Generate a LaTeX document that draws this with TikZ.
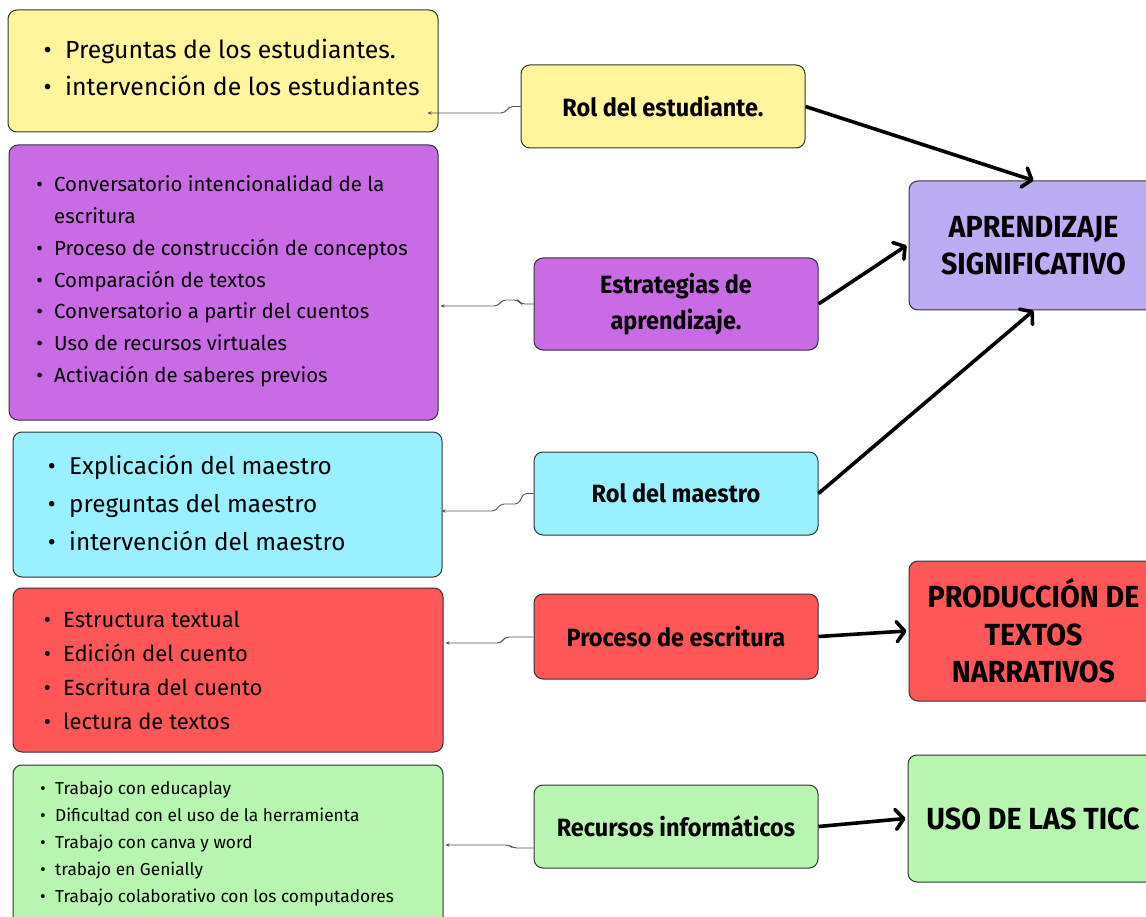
\documentclass[tikz,border=0pt]{standalone}
\usepackage{fontspec}
\setmainfont{Fira Sans}
\newfontfamily\hfont{Fira Sans}[FakeStretch=0.94]
\usetikzlibrary{arrows.meta}
\definecolor{cyel}{HTML}{FFF59D}
\definecolor{cpur}{HTML}{C96BE5}
\definecolor{ccya}{HTML}{99F0FF}
\definecolor{cred}{HTML}{FF5757}
\definecolor{cgre}{HTML}{B8F5B0}
\definecolor{clav}{HTML}{BCACF4}
\definecolor{bd}{HTML}{333333}
\definecolor{cn}{HTML}{555555}
\newcommand{\bul}{\llap{\textbullet\hspace{0.55em}}}
\begin{document}
\begin{tikzpicture}[x=1pt,y=-1pt,
  box/.style={draw=bd,line width=1pt,rounded corners=9pt,inner sep=0pt},
  lbl/.style={box,align=center,font=\hfont\bfseries\fontsize{25}{36}\selectfont},
  big/.style={box,align=center,font=\hfont\bfseries\fontsize{30.5}{37.5}\selectfont},
  item/.style={anchor=base west,inner sep=0pt},
  conn/.style={draw=cn,line width=0.9pt,rounded corners=4pt,-{Stealth[length=4pt,width=3.5pt]}},
  thick arrow/.style={line width=3.6pt,-{Straight Barb[length=8pt,width=20pt,round]}}]
\clip (0,0) rectangle (1146,917);
% left boxes
\node[box,fill=cyel,minimum width=430,minimum height=122] (y1) at (223,71) {};
\node[box,fill=cpur,minimum width=429,minimum height=275] (p1) at (223.5,282.5) {};
\node[box,fill=ccya,minimum width=429,minimum height=145] (c1) at (227.5,504.5) {};
\node[box,fill=cred,minimum width=430,minimum height=164] (r1) at (228,670) {};
\node[box,fill=cgre,minimum width=430,minimum height=170] (g1) at (228,850) {};
% middle boxes
\node[lbl,fill=cyel,minimum width=284,minimum height=83] (rolE) at (663,106.5) {Rol del estudiante.};
\node[lbl,fill=cpur,minimum width=284,minimum height=92] (est) at (676,304) {Estrategias de\\aprendizaje.};
\node[lbl,fill=ccya,minimum width=284,minimum height=83] (rolM) at (676,493.5) {Rol del maestro};
\node[lbl,fill=cred,minimum width=284,minimum height=85] (proc) at (676,636.5) {Proceso de escritura};
\node[lbl,fill=cgre,minimum width=284,minimum height=83] (rec) at (676,826.5) {Recursos informáticos};
% right boxes
\node[big,fill=clav,minimum width=249,minimum height=129] (apr) at (1033.5,245.5) {APRENDIZAJE\\SIGNIFICATIVO};
\node[big,fill=cred,minimum width=249,minimum height=140] (prod) at (1033.5,631) {PRODUCCIÓN DE\\TEXTOS\\NARRATIVOS};
\node[big,fill=cgre,minimum width=250,minimum height=127] (uso) at (1033,818.5) {USO DE LAS TICC};
% items
\begin{scope}[every node/.style={item,font=\fontsize{24.8}{24.8}\selectfont}]
\node (y1a) at (65,59) {\bul Preguntas de los estudiantes.};
\node (y1b) at (65,96) {\bul intervención de los estudiantes};
\end{scope}
\begin{scope}[every node/.style={item,font=\fontsize{20.4}{20.4}\selectfont}]
\node (p1a) at (54,192) {\bul Conversatorio intencionalidad de la};
\node (p1b) at (54,223.7) {escritura};
\node (p1c) at (54,255.4) {\bul Proceso de construcción de conceptos};
\node (p1d) at (54,287.1) {\bul Comparación de textos};
\node (p1e) at (54,318.8) {\bul Conversatorio a partir del cuentos};
\node (p1f) at (54,350.5) {\bul Uso de recursos virtuales};
\node (p1g) at (54,382.2) {\bul Activación de saberes previos};
\end{scope}
\begin{scope}[every node/.style={item,font=\fontsize{24.3}{24.3}\selectfont}]
\node (c1a) at (69,474) {\bul Explicación del maestro};
\node (c1b) at (69,512) {\bul preguntas del maestro};
\node (c1c) at (69,550) {\bul intervención del maestro};
\end{scope}
\begin{scope}[every node/.style={item,font=\fontsize{22}{22}\selectfont}]
\node (r1a) at (63,627) {\bul Estructura textual};
\node (r1b) at (63,661) {\bul Edición del cuento};
\node (r1c) at (63,695) {\bul Escritura del cuento};
\node (r1d) at (63,729) {\bul lectura de textos};
\end{scope}
\begin{scope}[every node/.style={item,font=\fontsize{17.3}{17.3}\selectfont}]
\node (g1a) at (55,794) {\bul Trabajo con educaplay};
\node (g1b) at (55,821) {\bul Dificultad con el uso de la herramienta};
\node (g1c) at (55,848) {\bul Trabajo con canva y word};
\node (g1d) at (55,875) {\bul trabajo en Genially};
\node (g1e) at (55,902) {\bul Trabajo colaborativo con los computadores};
\end{scope}
% thin connectors
\draw[conn] (rolE.west) -- (509,106.5) -- (505,113) -- ([xshift=-11pt]y1.east |- 0,113);
\draw[conn] (est.west) -- (521,304) -- (518,300) -- (502,300) -- (498,306) -- ([xshift=2pt]p1.east |- 0,306);
\draw[conn] (rolM.west) -- (523,493.5) -- (519,504) -- (500,504) -- (496,511) -- ([xshift=-1pt]c1.east |- 0,511);
\draw[conn] (proc.west |- 0,637) -- (505,637) -- (501,643) -- ([xshift=2pt]r1.east |- 0,643);
\draw[conn] (rec.west |- 0,848) -- (513,848) -- (509,845) -- ([xshift=2pt]g1.east |- 0,845);
% thick arrows
\draw[thick arrow] (rolE.east) -- (apr.north);
\draw[thick arrow] (est.east) -- ([xshift=-2pt]apr.west);
\draw[thick arrow] (rolM.east) -- (apr.south);
\draw[thick arrow] (proc.east) -- ([xshift=-2pt]prod.west);
\draw[thick arrow] (rec.east) -- ([xshift=-2pt]uso.west);
\end{tikzpicture}
\end{document}
